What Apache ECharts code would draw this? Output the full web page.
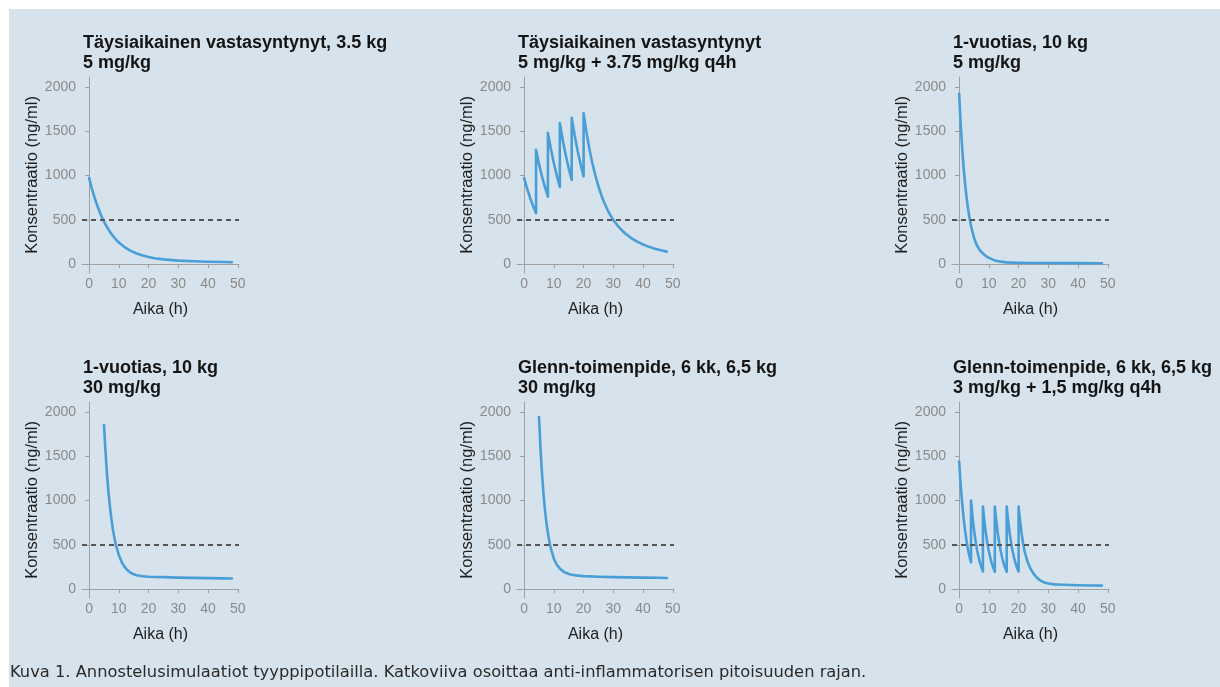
<!DOCTYPE html>
<html>
<head>
<meta charset="utf-8">
<script src="https://cdn.jsdelivr.net/npm/echarts@6/dist/echarts.min.js"></script>
<style>
  html, body { margin: 0; padding: 0; background: #ffffff; }
  #chart { position: absolute; left: 0; top: 0; width: 1220px; height: 687px; }
</style>
</head>
<body>
<div id="chart"></div>
<script>
// Tick positions shared by all six panels
const xTicks = [0, 10, 20, 30, 40, 50];
const yTicks = [0, 500, 1000, 1500, 2000];
const threshold = 500;

// Panel titles (two lines each)
const panelTitles = [
  'Täysiaikainen vastasyntynyt, 3.5 kg\n5 mg/kg',
  'Täysiaikainen vastasyntynyt\n5 mg/kg + 3.75 mg/kg q4h',
  '1-vuotias, 10 kg\n5 mg/kg',
  '1-vuotias, 10 kg\n30 mg/kg',
  'Glenn-toimenpide, 6 kk, 6,5 kg\n30 mg/kg',
  'Glenn-toimenpide, 6 kk, 6,5 kg\n3 mg/kg + 1,5 mg/kg q4h'
];

// Panel 1: full-term newborn, single 5 mg/kg dose
const time1 = [0, 1, 2, 3, 4, 5, 6, 7, 8, 9, 10, 12, 14, 16, 18, 20, 22, 25, 28, 30, 35, 40, 45, 48];
const conc1 = [970, 842, 731, 635, 552, 480, 418, 364, 318, 278, 243, 190, 150, 120, 98, 80, 67, 54, 45, 40, 32, 27, 24, 22];

// Panel 2: full-term newborn, 5 mg/kg + 3.75 mg/kg every 4 h
const time2 = [0, 1, 2, 3, 4, 4, 5, 6, 7, 8, 8, 9, 10, 11, 12, 12, 13, 14, 15, 16, 16, 17, 18, 19, 20, 20,
               21, 22, 23, 24, 25, 26, 27, 28, 29, 30, 32, 34, 36, 38, 40, 42, 44, 46, 48];
const conc2 = [970, 851, 746, 655, 575, 1290, 1130, 990, 868, 760, 1480, 1297, 1137, 995, 870, 1590, 1397, 1227, 1080, 950,
               1650, 1450, 1275, 1125, 990, 1700, 1480, 1290, 1130, 995, 875, 775, 690, 615, 552, 497, 411, 345, 294, 253, 221, 195, 174, 156, 141];

// Panel 3: 1-year-old, single 5 mg/kg dose
const time3 = [0, 0.5, 1, 1.5, 2, 2.5, 3, 3.5, 4, 5, 6, 7, 8, 9, 10, 12, 14, 16, 18, 20, 25, 30, 40, 48];
const conc3 = [1920, 1590, 1318, 1092, 906, 752, 624, 518, 431, 298, 210, 155, 120, 90, 70, 42, 28, 20, 17, 15, 13, 12, 11, 10];

// Panel 4: 1-year-old, 30 mg/kg
const time4 = [5, 5.5, 6, 6.5, 7, 7.5, 8, 8.5, 9, 10, 11, 12, 13, 14, 15, 16, 18, 20, 25, 30, 35, 40, 45, 48];
const conc4 = [1850, 1549, 1300, 1097, 928, 789, 673, 579, 500, 382, 302, 247, 210, 184, 168, 157, 145, 140, 135, 130, 127, 124, 121, 120];

// Panel 5: Glenn procedure, 30 mg/kg
const time5 = [5, 5.5, 6, 6.5, 7, 7.5, 8, 8.5, 9, 10, 11, 12, 13, 14, 15, 16, 18, 20, 25, 30, 35, 40, 45, 48];
const conc5 = [1940, 1590, 1307, 1079, 896, 748, 629, 533, 456, 343, 275, 232, 204, 184, 170, 162, 152, 147, 140, 135, 132, 130, 128, 126];

// Panel 6: Glenn procedure, 3 mg/kg + 1.5 mg/kg every 4 h
const time6 = [0, 0.5, 1, 1.5, 2, 2.5, 3, 3.5, 4,
               4, 4.5, 5, 5.5, 6, 6.5, 7, 7.5, 8,
               8, 8.5, 9, 9.5, 10, 10.5, 11, 11.5, 12,
               12, 12.5, 13, 13.5, 14, 14.5, 15, 15.5, 16,
               16, 16.5, 17, 17.5, 18, 18.5, 19, 19.5, 20,
               20, 20.5, 21, 21.5, 22, 23, 24, 25, 26, 27, 28, 29, 30, 32, 35, 40, 45, 48];
const conc6 = [1440, 1184, 975, 801, 660, 543, 445, 366, 300,
               1000, 818, 669, 547, 448, 366, 300, 245, 200,
               930, 765, 630, 518, 427, 351, 289, 238, 195,
               930, 765, 630, 518, 427, 351, 289, 238, 195,
               930, 765, 630, 518, 427, 351, 289, 238, 200,
               930, 765, 630, 518, 427, 310, 230, 175, 135, 105, 85, 72, 63, 54, 49, 44, 41, 39];

const panelTimes = [time1, time2, time3, time4, time5, time6];
const panelConcs = [conc1, conc2, conc3, conc4, conc5, conc6];

const FONT = '"Liberation Sans", Arial, Helvetica, sans-serif';
const lefts = [82, 517, 952];
const tops = [77, 402];
const gridW = 157;
const gridH = 196;

const grids = [], xAxes = [], yAxes = [], series = [], titles = [];
const plainNumber = v => String(v);

for (let i = 0; i < 6; i++) {
  const col = i % 3, row = Math.floor(i / 3);
  grids.push({ left: lefts[col], top: tops[row], width: gridW, height: gridH, containLabel: false });

  titles.push({
    text: panelTitles[i],
    left: lefts[col] + 1,
    top: tops[row] - 44,
    padding: 0,
    textStyle: { fontFamily: FONT, fontSize: 18, fontWeight: 'bold', color: '#141414', lineHeight: 20 }
  });

  xAxes.push({
    type: 'value', gridIndex: i, min: -2.4, max: 50.4,
    name: 'Aika (h)', nameLocation: 'middle', nameGap: 29,
    nameTextStyle: { fontFamily: FONT, fontSize: 16, color: '#1e1e1e' },
    axisLine: { show: true, lineStyle: { color: '#a0a0a0', width: 1 } },
    axisTick: { show: true, length: 4, customValues: xTicks, lineStyle: { color: '#a0a0a0' } },
    axisLabel: { customValues: xTicks, formatter: plainNumber, margin: 4, fontFamily: FONT, fontSize: 14, color: '#8a8a8a' },
    splitLine: { show: false }
  });

  yAxes.push({
    type: 'value', gridIndex: i, min: -100, max: 2110,
    name: 'Konsentraatio (ng/ml)', nameLocation: 'middle', nameGap: 33,
    nameTextStyle: { fontFamily: FONT, fontSize: 16.5, color: '#1e1e1e' },
    axisLine: { show: true, lineStyle: { color: '#a0a0a0', width: 1 } },
    axisTick: { show: true, length: 4, customValues: yTicks, lineStyle: { color: '#a0a0a0' } },
    axisLabel: { customValues: yTicks, formatter: plainNumber, margin: 6, fontFamily: FONT, fontSize: 14, color: '#8a8a8a' },
    splitLine: { show: false }
  });

  const pts = panelTimes[i].map((t, k) => [t, panelConcs[i][k]]);
  series.push({
    type: 'line', xAxisIndex: i, yAxisIndex: i,
    data: pts, showSymbol: false, symbol: 'none', smooth: false,
    lineStyle: { color: '#4a9ed8', width: 2.6, cap: 'round', join: 'round' },
    animation: false,
    markLine: {
      silent: true, symbol: 'none', animation: false,
      label: { show: false },
      lineStyle: { color: '#555555', type: [5, 4], width: 1.8 },
      data: [{ yAxis: threshold }]
    }
  });
}

titles.push({
  text: 'Kuva 1. Annostelusimulaatiot tyyppipotilailla. Katkoviiva osoittaa anti-inflammatorisen pitoisuuden rajan.',
  left: 10, top: 665, padding: 0,
  textStyle: { fontFamily: '"DejaVu Sans", sans-serif', fontSize: 16.3, fontWeight: 'normal', color: '#2a2a2a' }
});

const chart = echarts.init(document.getElementById('chart'), null, { renderer: 'canvas' });
chart.setOption({
  animation: false,
  backgroundColor: 'transparent',
  graphic: [{
    type: 'rect', z: -10, silent: true,
    shape: { x: 9, y: 9, width: 1211, height: 678 },
    style: { fill: '#d7e3ec' }
  }],
  title: titles,
  grid: grids,
  xAxis: xAxes,
  yAxis: yAxes,
  series: series
});
</script>
</body>
</html>
